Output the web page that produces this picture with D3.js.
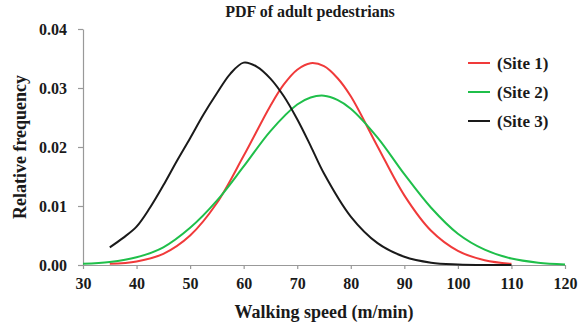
<!DOCTYPE html>
<html>
<head>
<meta charset="utf-8">
<script src="https://cdn.jsdelivr.net/npm/d3@7"></script>
<style>
  body { margin: 0; background: #fff; }
  svg text { font-family: "Liberation Serif", "Times New Roman", serif; font-weight: bold; fill: #1a1a1a; }
</style>
</head>
<body>
<div class="chart"></div>
<script>
// walking speed samples (m/min) and relative frequency
const speeds1 = [35, 40, 45, 50, 55, 60, 65, 67.5, 70, 72.5, 75, 77.5, 80, 85, 90, 95, 100, 105, 110];
const site1 = [0.0002, 0.0006, 0.0019, 0.0050, 0.0105, 0.0185, 0.0270, 0.0306, 0.0331, 0.0342, 0.0337, 0.0317, 0.0286, 0.0201, 0.0118, 0.0058, 0.0024, 0.0008, 0.0002];

const speeds2 = [30, 35, 40, 45, 50, 55, 60, 65, 70, 72.5, 75, 77.5, 80, 85, 90, 95, 100, 105, 110, 115, 120];
const site2 = [0.0002, 0.0005, 0.0013, 0.0030, 0.0063, 0.0109, 0.0167, 0.0227, 0.0272, 0.0284, 0.0287, 0.0280, 0.0265, 0.0216, 0.0154, 0.0097, 0.0053, 0.0026, 0.0011, 0.0004, 0.0001];

const speeds3 = [35, 37.5, 40, 42.5, 45, 47.5, 50, 52.5, 55, 57.5, 60, 62.5, 65, 67.5, 70, 72.5, 75, 80, 85, 90, 95, 100, 105, 110];
const site3 = [0.0030, 0.0046, 0.0065, 0.0097, 0.0135, 0.0176, 0.0215, 0.0255, 0.0291, 0.0324, 0.0343, 0.0336, 0.0316, 0.0286, 0.0247, 0.0202, 0.0155, 0.0082, 0.0037, 0.0014, 0.0004, 0.0001, 0.0000, 0.0000];

const seriesNames = ["(Site 1)", "(Site 2)", "(Site 3)"];
const seriesColors = ["#f03a3a", "#1fbf4a", "#1a1a1a"];
const xTicks = [30, 40, 50, 60, 70, 80, 90, 100, 110, 120];
const yTicks = [0, 0.01, 0.02, 0.03, 0.04];

const width = 584;
const height = 327;
const margin = { top: 29, right: 19, bottom: 62, left: 83 };

const svg = d3.select(".chart").append("svg")
    .attr("width", width)
    .attr("height", height);

const x = d3.scaleLinear().domain([30, 120]).range([margin.left, width - margin.right]);
const y = d3.scaleLinear().domain([0, 0.04]).range([height - margin.bottom, margin.top]);

// axes
const xAxis = svg.append("g")
    .attr("transform", "translate(0," + (height - margin.bottom) + ")")
    .call(d3.axisBottom(x).tickValues(xTicks).tickSize(4).tickSizeOuter(0).tickPadding(9));
const yAxis = svg.append("g")
    .attr("transform", "translate(" + margin.left + ",0)")
    .call(d3.axisLeft(y).tickValues(yTicks).tickSize(5).tickSizeOuter(0).tickPadding(11).tickFormat(d3.format(".2f")));

[xAxis, yAxis].forEach(ax => {
    ax.select(".domain").attr("stroke", "#999").attr("stroke-width", 1.2);
    ax.selectAll(".tick line").attr("stroke", "#999").attr("stroke-width", 1.2);
    ax.selectAll("text").style("font-size", "16px").style("font-family", "Liberation Serif").style("font-weight", "bold").attr("fill", "#1a1a1a");
});

// curves
const allSeries = [
    speeds1.map((s, i) => [s, site1[i]]),
    speeds2.map((s, i) => [s, site2[i]]),
    speeds3.map((s, i) => [s, site3[i]])
];
const line = d3.line()
    .x(d => x(d[0]))
    .y(d => y(d[1]))
    .curve(d3.curveCatmullRom.alpha(0.5));

allSeries.forEach((pts, i) => {
    svg.append("path")
        .datum(pts)
        .attr("fill", "none")
        .attr("stroke", seriesColors[i])
        .attr("stroke-width", 2)
        .attr("d", line);
});

// titles
svg.append("text")
    .attr("x", 310)
    .attr("y", 17)
    .attr("text-anchor", "middle")
    .style("font-size", "16px")
    .text("PDF of adult pedestrians");

svg.append("text")
    .attr("x", (margin.left + width - margin.right) / 2)
    .attr("y", 318)
    .attr("text-anchor", "middle")
    .style("font-size", "18px")
    .text("Walking speed (m/min)");

svg.append("text")
    .attr("text-anchor", "middle")
    .attr("transform", "translate(26," + ((margin.top + height - margin.bottom) / 2) + ")rotate(-90)")
    .style("font-size", "18px")
    .text("Relative frequency");

// legend
const legend = svg.append("g").attr("transform", "translate(468,63)");
seriesNames.forEach((name, i) => {
    legend.append("line")
        .attr("x1", 0).attr("x2", 22)
        .attr("y1", i * 29).attr("y2", i * 29)
        .attr("stroke", seriesColors[i])
        .attr("stroke-width", 2);
    legend.append("text")
        .attr("x", 29)
        .attr("y", i * 29 + 6)
        .style("font-size", "17px")
        .text(name);
});
</script>
</body>
</html>
